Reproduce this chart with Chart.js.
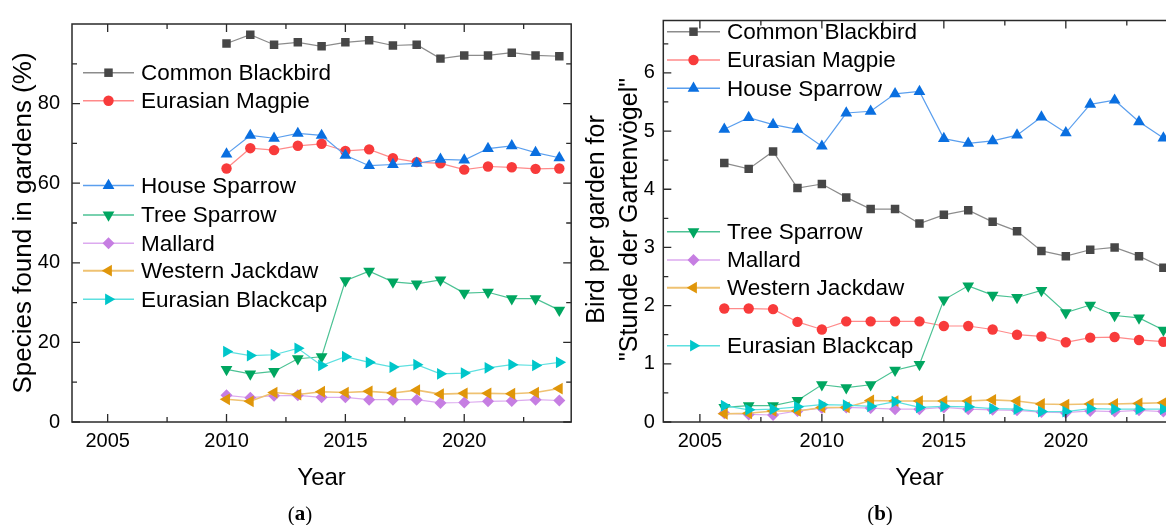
<!DOCTYPE html>
<html><head><meta charset="utf-8">
<script src="https://cdn.jsdelivr.net/npm/chart.js@4.4.1/dist/chart.umd.min.js"></script>
<style>
html,body{margin:0;padding:0;width:1166px;height:525px;overflow:hidden;background:#fff;}
#wa{position:absolute;left:0;top:0;width:578px;height:525px;}
#wb{position:absolute;left:578px;top:0;width:607px;height:525px;}
</style></head><body>
<div id="wa"><canvas id="ca"></canvas></div>
<div id="wb"><canvas id="cb"></canvas></div>
<script>
// ---------- data ----------
const speciesNames = ['Common Blackbird','Eurasian Magpie','House Sparrow','Tree Sparrow','Mallard','Western Jackdaw','Eurasian Blackcap'];

// (a) share of gardens where species was found (%)
const yearsA = [2010,2011,2012,2013,2014,2015,2016,2017,2018,2019,2020,2021,2022,2023,2024];
const blackbirdA    = [95.1,97.3,94.8,95.4,94.4,95.4,95.9,94.6,94.8,91.3,92.1,92.1,92.8,92.1,91.9];
const magpieA       = [63.7,68.8,68.3,69.4,69.9,68.1,68.5,66.3,65.3,65.0,63.4,64.2,64.0,63.6,63.7];
const houseSparrowA = [67.3,72.0,71.3,72.5,72.0,67.0,64.4,64.7,65.0,66.0,65.8,68.7,69.4,67.7,66.4];
const treeSparrowA  = [13.2,12.1,12.7,15.9,16.4,35.5,37.9,35.2,34.7,35.7,32.4,32.6,31.0,31.0,28.1];
const mallardA      = [6.7,6.1,6.6,6.7,6.2,6.2,5.6,5.6,5.6,4.8,4.9,5.2,5.3,5.6,5.4];
const jackdawA      = [5.7,5.2,7.4,6.9,7.6,7.4,7.7,7.3,8.0,7.0,7.2,7.2,7.1,7.4,8.4];
const blackcapA     = [17.7,16.7,16.9,18.5,14.2,16.4,15.0,13.8,14.4,12.1,12.3,13.6,14.4,14.2,15.0];

// (b) birds per garden for "Stunde der Gartenvögel"
const yearsB = [2006,2007,2008,2009,2010,2011,2012,2013,2014,2015,2016,2017,2018,2019,2020,2021,2022,2023,2024];
const blackbirdB    = [4.45,4.35,4.65,4.02,4.09,3.86,3.66,3.66,3.41,3.56,3.64,3.44,3.28,2.94,2.85,2.96,3.00,2.85,2.65];
const magpieB       = [1.95,1.95,1.94,1.72,1.59,1.73,1.73,1.73,1.73,1.65,1.65,1.59,1.50,1.47,1.37,1.45,1.46,1.41,1.38];
const houseSparrowB = [5.03,5.23,5.11,5.03,4.74,5.31,5.34,5.64,5.68,4.87,4.79,4.83,4.93,5.24,4.97,5.46,5.53,5.16,4.88];
const treeSparrowB  = [0.25,0.28,0.28,0.37,0.64,0.59,0.64,0.89,0.99,2.10,2.34,2.18,2.14,2.26,1.88,2.01,1.83,1.79,1.58];
const mallardB      = [0.15,0.13,0.12,0.19,0.24,0.25,0.24,0.22,0.22,0.25,0.22,0.21,0.20,0.17,0.16,0.19,0.18,0.20,0.18];
const jackdawB      = [0.14,0.15,0.19,0.19,0.25,0.25,0.37,0.36,0.36,0.36,0.36,0.38,0.36,0.31,0.30,0.31,0.31,0.32,0.33];
const blackcapB     = [0.28,0.21,0.22,0.26,0.30,0.29,0.27,0.35,0.25,0.27,0.26,0.23,0.22,0.18,0.18,0.23,0.22,0.22,0.22];

// ticks
const xMajorTicks = [2005,2010,2015,2020];
const xMinorTicks = [2007.5,2012.5,2017.5,2022.5];
const yMajorTicksA = [0,20,40,60,80];
const yMinorTicksA = [10,30,50,70,90];
const yMajorTicksB = [0,1,2,3,4,5,6];
const yMinorTicksB = [0.5,1.5,2.5,3.5,4.5,5.5,6.5];

// ---------- styles ----------
const FONT = '"Liberation Sans", Arial, sans-serif';
const styles = [
  {marker:'#474747', line:'#8c8c8c', shape:'rect',     rot:0,   r:6,   lw:1.2},
  {marker:'#f83b3b', line:'#ff8a8a', shape:'circle',   rot:0,   r:5.2, lw:1.2},
  {marker:'#0a6fe0', line:'#5b9fee', shape:'triangle', rot:0,   r:6.8, lw:1.2},
  {marker:'#00a660', line:'#4cc294', shape:'triangle', rot:180, r:6.8, lw:1.2},
  {marker:'#c67ee2', line:'#dcaaef', shape:'rectRot',  rot:0,   r:6,   lw:1.2},
  {marker:'#e0960a', line:'#efc272', shape:'triangle', rot:270, r:6.8, lw:1.6},
  {marker:'#00c6ca', line:'#5ee0e0', shape:'triangle', rot:90,  r:6.8, lw:1.2}
];

function makeDatasets(years, series){
  return series.map((vals,i)=>({
    label: speciesNames[i],
    data: years.map((y,k)=>({x:y, y:vals[k]})),
    borderColor: styles[i].line,
    borderWidth: styles[i].lw,
    backgroundColor: styles[i].marker,
    pointBackgroundColor: styles[i].marker,
    pointBorderWidth: 0,
    pointStyle: styles[i].shape,
    pointRotation: styles[i].rot,
    pointRadius: styles[i].r,
    pointHoverRadius: styles[i].r,
    tension: 0,
    order: series.length - i
  }));
}

function framePlugin(yMajor, yMinor){
  return {
    id:'frame',
    afterDatasetsDraw(chart){
      const {ctx, chartArea:a, scales} = chart;
      const xs = scales.x, ys = scales.y;
      ctx.save();
      ctx.strokeStyle = '#2a2a2a';
      ctx.lineWidth = 1.5;
      ctx.strokeRect(a.left, a.top, a.right - a.left, a.bottom - a.top);
      ctx.lineWidth = 1.3;
      const tick = (vals, len, isX) => {
        vals.forEach(v=>{
          ctx.beginPath();
          if (isX){
            const p = xs.getPixelForValue(v);
            if (p < a.left || p > a.right) return;
            ctx.moveTo(p, a.bottom); ctx.lineTo(p, a.bottom - len);
            ctx.moveTo(p, a.top); ctx.lineTo(p, a.top + len);
          } else {
            const p = ys.getPixelForValue(v);
            if (p < a.top || p > a.bottom) return;
            ctx.moveTo(a.left, p); ctx.lineTo(a.left + len, p);
            ctx.moveTo(a.right, p); ctx.lineTo(a.right - len, p);
          }
          ctx.stroke();
        });
      };
      tick(xMajorTicks, 8, true); tick(xMinorTicks, 5, true);
      tick(yMajor, 8, false); tick(yMinor, 5, false);
      ctx.restore();
    }
  };
}

function legendPlugin(rows, lineX0, lineX1, textX){
  return {
    id:'customLegend',
    afterDraw(chart){
      const ctx = chart.ctx;
      ctx.save();
      ctx.font = '22.5px ' + FONT;
      ctx.textBaseline = 'middle';
      ctx.textAlign = 'left';
      rows.forEach((y,i)=>{
        const s = styles[i];
        ctx.strokeStyle = s.line; ctx.lineWidth = s.lw + 0.3;
        ctx.beginPath(); ctx.moveTo(lineX0, y); ctx.lineTo(lineX1, y); ctx.stroke();
        ctx.fillStyle = s.marker;
        Chart.helpers.drawPoint(ctx, {pointStyle:s.shape, radius:s.r, rotation:s.rot, borderWidth:0}, (lineX0+lineX1)/2, y);
        ctx.fillStyle = '#000';
        ctx.fillText(speciesNames[i], textX, y + 1);
      });
      ctx.restore();
    }
  };
}

function titlesPlugin(yTitleLines, yTitleXs, yTitleSize, yTitleCy, panelLabel, labelX){
  return {
    id:'titles',
    afterDraw(chart){
      const {ctx, chartArea:a} = chart;
      ctx.save();
      ctx.fillStyle = '#000';
      ctx.textAlign = 'center';
      ctx.textBaseline = 'middle';
      ctx.font = '24px ' + FONT;
      ctx.fillText('Year', (a.left + a.right)/2, 478);
      ctx.font = yTitleSize + 'px ' + FONT;
      yTitleLines.forEach((t,i)=>{
        ctx.save();
        ctx.translate(yTitleXs[i], yTitleCy);
        ctx.rotate(-Math.PI/2);
        ctx.fillText(t, 0, 0);
        ctx.restore();
      });
      // panel label "(a)" / "(b)"
      ctx.textAlign = 'left';
      const y = 515;
      const reg = '21px "Liberation Serif", "DejaVu Serif", serif';
      const bold = 'bold 21px "Liberation Serif", "DejaVu Serif", serif';
      ctx.font = reg;  const wOpen = ctx.measureText('(').width;
      ctx.font = bold; const wMid = ctx.measureText(panelLabel).width;
      ctx.font = reg;  const wClose = ctx.measureText(')').width;
      let x = labelX - (wOpen + wMid + wClose)/2;
      ctx.fillText('(', x, y); x += wOpen;
      ctx.font = bold; ctx.fillText(panelLabel, x, y); x += wMid;
      ctx.font = reg;  ctx.fillText(')', x, y);
      ctx.restore();
    }
  };
}

function makeOptions(yMin, yMax, yMajor, yLeftWidth, yPad, padRight){
  return {
    responsive:true, maintainAspectRatio:false, animation:false, devicePixelRatio:1,
    layout:{padding:{left:0, right:padRight, top:0, bottom:0}},
    plugins:{legend:{display:false}, tooltip:{enabled:false}},
    events:[],
    scales:{
      x:{
        type:'linear', min:2003.5, max:2024.5,
        grid:{display:false, drawTicks:false}, border:{display:false},
        afterBuildTicks: s => { s.ticks = xMajorTicks.map(v=>({value:v})); },
        afterFit: s => { s.height = 103; },
        ticks:{color:'#000', font:{family:FONT, size:20}, padding:7.5, maxRotation:0, autoSkip:false,
               callback: v => String(v)}
      },
      y:{
        type:'linear', min:yMin, max:yMax,
        grid:{display:false, drawTicks:false}, border:{display:false},
        afterBuildTicks: s => { s.ticks = yMajor.map(v=>({value:v})); },
        afterFit: s => { s.width = yLeftWidth; },
        ticks:{color:'#000', font:{family:FONT, size:20}, padding:yPad, autoSkip:false,
               callback: v => String(v)}
      }
    }
  };
}

// ---------- chart (a) ----------
const optA = makeOptions(0, 100, yMajorTicksA, 72, 12, 1);
optA.layout.padding.top = 14.5;
new Chart(document.getElementById('ca'), {
  type:'line',
  data:{datasets: makeDatasets(yearsA, [blackbirdA, magpieA, houseSparrowA, treeSparrowA, mallardA, jackdawA, blackcapA])},
  options: optA,
  plugins:[
    framePlugin(yMajorTicksA, yMinorTicksA),
    legendPlugin([72.7,100.7,185.5,215,243.3,270.7,299.3], 83, 134, 141),
    titlesPlugin(['Species found in gardens (%)'], [24], 26, 223, 'a', 300)
  ]
});

// ---------- chart (b) ----------
const optB = makeOptions(0, 6.9, yMajorTicksB, 85.3, 8.5, 9.4);
optB.layout.padding.top = 12.7;
new Chart(document.getElementById('cb'), {
  type:'line',
  data:{datasets: makeDatasets(yearsB, [blackbirdB, magpieB, houseSparrowB, treeSparrowB, mallardB, jackdawB, blackcapB])},
  options: optB,
  plugins:[
    framePlugin(yMajorTicksB, yMinorTicksB),
    legendPlugin([31.7,60,88.3,231.7,260,287.7,345.7], 89, 142, 149),
    titlesPlugin(['Bird per garden for', '"Stunde der Gartenvögel"'], [19, 52], 25, 219.5, 'b', 302)
  ]
});
</script>
</body></html>
